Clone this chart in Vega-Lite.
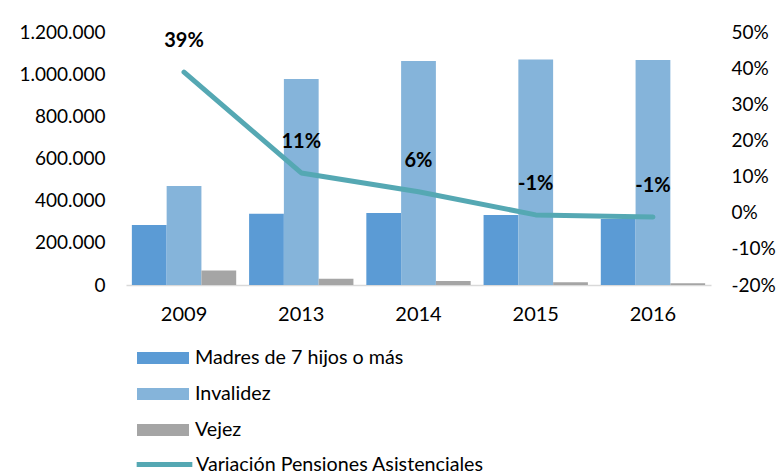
{
  "$schema": "https://vega.github.io/schema/vega-lite/v6.json",
  "width": 585,
  "height": 253,
  "padding": {"left": 126, "top": 32, "right": 66, "bottom": 191},
  "autosize": {"type": "none"},
  "background": "white",
  "config": {
    "locale": {"number": {"decimal": ",", "thousands": ".", "grouping": [3], "currency": ["", " €"], "minus": "-"}},
    "font": "Lato",
    "view": {"stroke": null},
    "axis": {"labelFont": "Lato", "labelColor": "#000000", "labelFontSize": 19, "ticks": false, "grid": false},
    "legend": {"labelFont": "Lato", "labelFontSize": 19.7, "labelColor": "#000000", "padding": 0, "labelLimit": 0}
  },
  "datasets": {
    "bars": [
      {"year": "2009", "serie": "Madres de 7 hijos o más", "valor": 285000},
      {"year": "2009", "serie": "Invalidez", "valor": 470000},
      {"year": "2009", "serie": "Vejez", "valor": 69000},
      {"year": "2013", "serie": "Madres de 7 hijos o más", "valor": 338000},
      {"year": "2013", "serie": "Invalidez", "valor": 977000},
      {"year": "2013", "serie": "Vejez", "valor": 30000},
      {"year": "2014", "serie": "Madres de 7 hijos o más", "valor": 341000},
      {"year": "2014", "serie": "Invalidez", "valor": 1062000},
      {"year": "2014", "serie": "Vejez", "valor": 19000},
      {"year": "2015", "serie": "Madres de 7 hijos o más", "valor": 332000},
      {"year": "2015", "serie": "Invalidez", "valor": 1070000},
      {"year": "2015", "serie": "Vejez", "valor": 13000},
      {"year": "2016", "serie": "Madres de 7 hijos o más", "valor": 313000},
      {"year": "2016", "serie": "Invalidez", "valor": 1067000},
      {"year": "2016", "serie": "Vejez", "valor": 8000}
    ],
    "line": [
      {"year": "2009", "serie": "Variación Pensiones Asistenciales", "var": 0.389},
      {"year": "2013", "serie": "Variación Pensiones Asistenciales", "var": 0.11},
      {"year": "2014", "serie": "Variación Pensiones Asistenciales", "var": 0.058},
      {"year": "2015", "serie": "Variación Pensiones Asistenciales", "var": -0.006},
      {"year": "2016", "serie": "Variación Pensiones Asistenciales", "var": -0.012}
    ]
  },
  "encoding": {
    "x": {
      "field": "year", "type": "nominal", "sort": null,
      "scale": {"paddingInner": 0.11, "paddingOuter": 0.05},
      "axis": {"title": null, "labelAngle": 0, "labelPadding": 19, "labelFontSize": 20, "domainColor": "#d9d9d9", "domainWidth": 1.5}
    }
  },
  "layer": [
    {
      "data": {"name": "bars"},
      "mark": {"type": "bar"},
      "encoding": {
        "xOffset": {"field": "serie", "type": "nominal", "sort": ["Madres de 7 hijos o más", "Invalidez", "Vejez"], "scale": {"paddingInner": 0, "paddingOuter": 0}},
        "y": {
          "field": "valor", "type": "quantitative",
          "scale": {"domain": [0, 1200000], "nice": false},
          "axis": {"title": null, "orient": "left", "domain": false, "format": ",.0f", "values": [0, 200000, 400000, 600000, 800000, 1000000, 1200000], "labelPadding": 21}
        },
        "color": {
          "field": "serie", "type": "nominal",
          "sort": ["Madres de 7 hijos o más", "Invalidez", "Vejez"],
          "scale": {"domain": ["Madres de 7 hijos o más", "Invalidez", "Vejez"], "range": ["#5b9bd5", "#85b4da", "#a5a5a5"]},
          "legend": {
            "title": null, "orient": "none", "legendX": 11, "legendY": 300, "direction": "vertical",
            "symbolType": "M-1,-0.23H1V0.23H-1Z", "symbolSize": 2704, "symbolStrokeWidth": 0,
            "rowPadding": -17, "labelOffset": 6
          }
        }
      }
    },
    {
      "data": {"name": "line"},
      "mark": {"type": "line", "strokeWidth": 5, "strokeCap": "round", "strokeJoin": "round"},
      "encoding": {
        "y": {
          "field": "var", "type": "quantitative",
          "scale": {"domain": [-0.2, 0.5], "nice": false},
          "axis": {"title": null, "orient": "right", "domain": false, "format": ".0%", "values": [-0.2, -0.1, 0, 0.1, 0.2, 0.3, 0.4, 0.5], "labelPadding": 20}
        },
        "stroke": {
          "field": "serie", "type": "nominal",
          "scale": {"range": ["#55a8b3"]},
          "legend": {
            "title": null, "orient": "none", "legendX": 8, "legendY": 402,
            "symbolType": "stroke", "symbolSize": 3100, "symbolStrokeWidth": 5, "labelOffset": 1
          }
        }
      }
    },
    {
      "data": {"name": "line"},
      "mark": {"type": "text", "dy": -31, "fontSize": 20, "fontWeight": "bold", "color": "#000000", "font": "Lato"},
      "encoding": {
        "y": {"field": "var", "type": "quantitative", "scale": {"domain": [-0.2, 0.5], "nice": false}, "axis": null},
        "text": {"field": "var", "type": "quantitative", "format": ".0%"}
      }
    }
  ],
  "resolve": {"scale": {"y": "independent", "color": "independent"}}
}
